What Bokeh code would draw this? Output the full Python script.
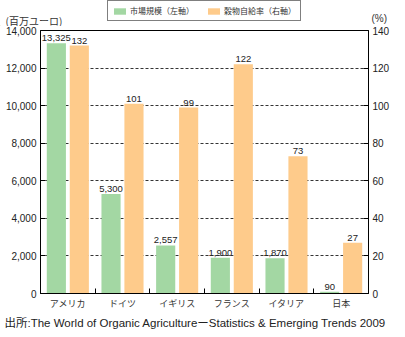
from bokeh.plotting import figure
from bokeh.layouts import column
from bokeh.models import (Range1d, LinearAxis, FixedTicker, NumeralTickFormatter,
                          Legend, LegendItem, ColumnDataSource)
from bokeh.core.properties import value
from bokeh.embed import file_html
from bokeh.resources import INLINE

categories = ["アメリカ", "ドイツ", "イギリス", "フランス", "イタリア", "日本"]
market = [13325, 5300, 2557, 1900, 1870, 90]          # 百万ユーロ (left axis)
self_suff = [132, 101, 99, 122, 73, 27]               # % (right axis)
left_ticks = [0, 2000, 4000, 6000, 8000, 10000, 12000, 14000]
right_ticks = [0, 20, 40, 60, 80, 100, 120, 140]
series_names = ["市場規模（左軸）", "穀物自給率（右軸）"]
left_unit = "(百万ユーロ)"
right_unit = "(%)"
source_note = "出所:The World of Organic Agriculture\u30fcStatistics & Emerging Trends 2009"

GREEN = "#a3d7a3"
ORANGE = "#fecb8b"
FONT = "Liberation Sans, Noto Sans CJK JP"
JFONT = "Noto Sans CJK JP"
W = 405

def bare_fig(h):
    fig = figure(width=W, height=h, output_backend="svg", toolbar_location=None,
                 x_range=Range1d(0, W), y_range=Range1d(0, h),
                 x_axis_location=None, y_axis_location=None, min_border=0,
                 frame_align=False)
    fig.grid.visible = False
    fig.outline_line_color = None
    fig.background_fill_color = "white"
    fig.border_fill_color = "white"
    return fig

# ---------- header: unit labels + legend ----------
HH = 26
hdr = bare_fig(HH)
hdr.text(x=[5], y=[HH - 19.5], text=[left_unit], text_font=value(JFONT),
         text_font_size="10px", text_baseline="middle", text_color="#333333")
hdr.text(x=[371], y=[HH - 17.5], text=[right_unit], text_font=value(FONT),
         text_font_size="10px", text_baseline="middle", text_color="#333333")
# legend sample glyphs (kept off-canvas; only their legend swatches show)
dg = hdr.vbar(x=[-100], top=[1], width=1, fill_color=GREEN, line_color=None)
do = hdr.vbar(x=[-100], top=[1], width=1, fill_color=ORANGE, line_color=None)
legend = Legend(items=[LegendItem(label=series_names[0], renderers=[dg]),
                       LegendItem(label=series_names[1], renderers=[do])],
                orientation="horizontal", location=(107, HH - 21))
legend.border_line_color = "black"
legend.border_line_width = 1
legend.label_text_font = JFONT
legend.label_text_font_size = "8px"
legend.label_text_color = "#333333"
legend.glyph_width = 15
legend.glyph_height = 8
legend.label_standoff = 3
legend.spacing = 12
legend.padding = 4
legend.margin = 0
legend.label_height = 8
legend.label_text_baseline = "middle"
hdr.add_layout(legend, "center")

# ---------- main chart ----------
n = len(categories)
xc = [i + 0.5 for i in range(n)]

p = figure(width=W, height=286, output_backend="svg", toolbar_location=None,
           x_range=Range1d(0, n), y_range=Range1d(0, 14000),
           min_border_left=40, min_border_right=37, min_border_top=4, min_border_bottom=17,
           frame_align=False)
p.extra_y_ranges = {"right": Range1d(0, 140)}
p.outline_line_color = "black"
p.outline_line_width = 1
p.outline_line_alpha = 1
p.background_fill_color = "white"
p.border_fill_color = "white"

src_g = ColumnDataSource(dict(x=[v - 0.21 for v in xc], y=market,
                              lab=[f"{v:,}" for v in market]))
src_o = ColumnDataSource(dict(x=[v + 0.21 for v in xc], y=self_suff,
                              lab=[str(v) for v in self_suff]))

p.vbar(x="x", top="y", width=0.35, source=src_g, fill_color=GREEN, line_color=None)
p.vbar(x="x", top="y", width=0.35, source=src_o, fill_color=ORANGE, line_color=None,
       y_range_name="right")
p.text(x="x", y="y", text="lab", source=src_g, text_align="center", text_baseline="bottom",
       y_offset=-2, text_font=value(FONT), text_font_size="9.5px", text_color="#222222")
p.text(x="x", y="y", text="lab", source=src_o, text_align="center", text_baseline="bottom",
       y_offset=-2, text_font=value(FONT), text_font_size="9.5px", text_color="#222222",
       y_range_name="right")

p.xgrid.visible = False
p.ygrid.ticker = FixedTicker(ticks=left_ticks[1:-1])
p.ygrid.grid_line_color = "black"
p.ygrid.grid_line_dash = "3 2"
p.ygrid.grid_line_width = 0.8

xa = p.xaxis[0]
xa.ticker = FixedTicker(ticks=xc, minor_ticks=[1, 2, 3, 4, 5])
xa.major_label_overrides = {v: c for v, c in zip(xc, categories)}
xa.major_tick_line_color = None
xa.major_tick_in = 0
xa.major_tick_out = 0
xa.minor_tick_in = 5
xa.minor_tick_out = 0
xa.minor_tick_line_color = "black"
xa.axis_line_color = "black"
xa.major_label_text_font = JFONT
xa.major_label_text_font_size = "9px"
xa.major_label_text_color = "#333333"
xa.major_label_standoff = 3

ya = p.yaxis[0]
ya.ticker = FixedTicker(ticks=left_ticks)
ya.formatter = NumeralTickFormatter(format="0,0")
ya.major_tick_in = 5
ya.major_tick_out = 0
ya.minor_tick_line_color = None
ya.major_tick_line_color = "black"
ya.axis_line_color = "black"
ya.major_label_text_font = FONT
ya.major_label_text_font_size = "10px"
ya.major_label_text_color = "#222222"
ya.major_label_standoff = 4

ra = LinearAxis(y_range_name="right", ticker=FixedTicker(ticks=right_ticks))
ra.major_tick_in = 5
ra.major_tick_out = 0
ra.minor_tick_line_color = None
ra.major_tick_line_color = "black"
ra.axis_line_color = "black"
ra.major_label_text_font = FONT
ra.major_label_text_font_size = "10px"
ra.major_label_text_color = "#222222"
ra.major_label_standoff = 4
p.add_layout(ra, "right")

# ---------- footer: source note ----------
FH = 337 - HH - 286
ftr = bare_fig(FH)
ftr.text(x=[4], y=[FH - 10], text=[source_note], text_font=value(FONT),
         text_font_size="11.5px", text_baseline="middle", text_color="#222222")

layout = column(hdr, p, ftr, spacing=0)
open("out.html", "w").write(file_html(layout, INLINE))
